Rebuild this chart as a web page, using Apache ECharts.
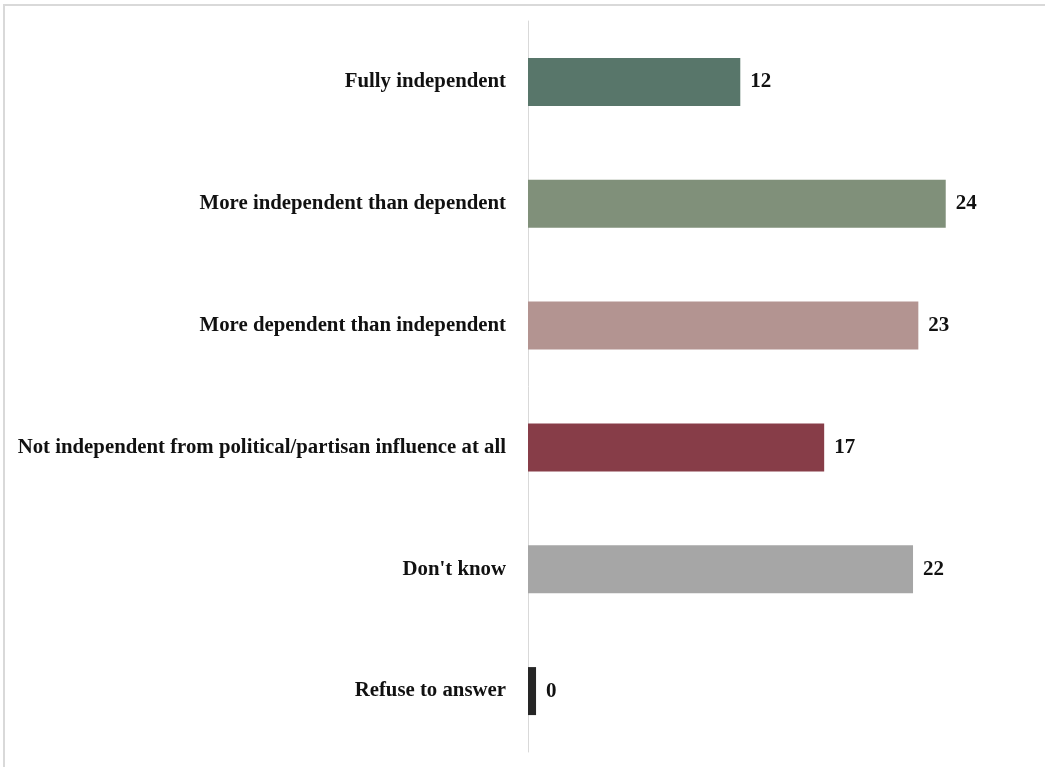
<!DOCTYPE html>
<html>
<head>
<meta charset="utf-8">
<script src="https://cdn.jsdelivr.net/npm/echarts@6/dist/echarts.min.js"></script>
<style>
html,body{margin:0;padding:0;background:#fff;}
#frame{position:absolute;left:3px;top:4px;width:1100px;height:900px;border-left:2px solid #d9d9d9;border-top:2px solid #d9d9d9;box-sizing:border-box;}
#chart{position:absolute;left:0;top:0;width:1045px;height:767px;}
</style>
</head>
<body>
<div id="frame"></div>
<div id="chart"></div>
<script>
const categories = [
  "Fully independent",
  "More independent than dependent",
  "More dependent than independent",
  "Not independent from political/partisan influence at all",
  "Don't know",
  "Refuse to answer"
];
const values = [12.4, 24.4, 22.8, 17.3, 22.49, 0.47];
const colors = ["#58766a", "#80907a", "#b39491", "#873d48", "#a6a6a6", "#262626"];

const chart = echarts.init(document.getElementById('chart'));
chart.setOption({
  animation: false,
  grid: {left: 528, right: 89, top: 21, bottom: 15, containLabel: false},
  xAxis: {
    type: 'value', min: 0, max: 25,
    show: false
  },
  yAxis: {
    type: 'category', data: categories, inverse: true,
    axisLine: {show: true, lineStyle: {color: '#d9d9d9', width: 1}},
    axisTick: {show: false},
    axisLabel: {
      color: '#111', fontFamily: 'Liberation Serif', fontWeight: 'bold', fontSize: 20.8, margin: 22,
      padding: [3, 0, 0, 0]
    }
  },
  series: [{
    type: 'bar',
    barWidth: 48,
    data: values.map((v, i) => ({value: v, itemStyle: {color: colors[i]}})),
    label: {
      show: true, position: 'right', distance: 10,
      color: '#111', fontFamily: 'Liberation Serif', fontWeight: 'bold', fontSize: 21,
      padding: [3, 0, 0, 0],
      formatter: p => Math.round(p.value)
    }
  }]
});
</script>
</body>
</html>
